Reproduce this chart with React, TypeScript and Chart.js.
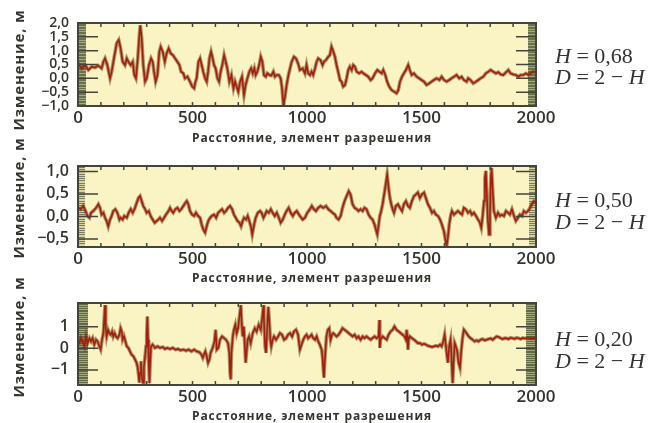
import React, { useEffect, useRef } from "react";
import { Chart, registerables } from "chart.js";

Chart.register(...registerables);

// ---------- data ----------
const X_TICKS = [0, 500, 1000, 1500, 2000];
const X_SMALL_TICKS = [100, 200, 300, 400, 500, 600, 700, 800, 900, 1000, 1100, 1200, 1300, 1400, 1500, 1600, 1700, 1800, 1900];
const X_TITLE = "Расстояние, элемент разрешения";
const Y_TITLE = "Изменение, м";

const H_LABELS = ["0,68", "0,50", "0,20"];

const P1_Y_TICKS = [-1, -0.5, 0, 0.5, 1, 1.5, 2];
const P2_Y_TICKS = [-0.5, 0, 0.5, 1];
const P3_Y_TICKS = [-1, 0, 1];

const P1_X = [0,16,31,45,60,74,89,103,111,118,128,140,147,157,169,178,186,195,205,213,220,230,239,246,253,261,268,272,278,285,293,300,310,319,326,332,339,347,355,361,370,379,387,396,405,414,424,434,443,450,460,467,478,489,499,507,513,518,526,533,540,547,555,562,568,574,581,588,594,601,609,616,623,630,638,645,652,661,670,679,686,693,700,708,716,725,732,740,748,756,763,770,776,783,791,798,805,812,820,827,836,844,853,860,868,877,885,891,897,904,911,919,926,933,943,952,961,
  969,981,991,998,1005,1013,1020,1027,1035,1042,1049,1059,1068,1074,1083,1093,1100,1107,1115,1122,1129,1136,1144,1151,1158,1166,1173,1180,1187,1195,1202,1209,1217,1228,1238,1246,1257,1267,1278,1286,1297,1307,1316,1326,1333,1342,1350,1359,1369,1380,1391,1399,1406,1415,1423,1432,1442,1449,1457,1467,1479,1490,1500,1511,1522,1534,1544,1554,1566,1578,1588,1598,1610,1621,1631,1642,1653,1665,1675,1685,1697,1704,1714,1726,1738,1748,1758,1770,1781,1792,1802,1813,1825,1835,1846,1857,1869,1879,1889,1901,1912,1923,1933,1945,1956,1966,1974,1988,2000];
const P1_Y = [0.55,0.36,0.48,0.30,0.42,0.39,0.46,0.36,0.60,0.72,0.48,0.00,0.24,0.72,1.27,1.39,1.08,0.60,0.48,0.72,0.60,0.48,0.60,0.12,0.00,0.72,1.57,1.92,1.45,0.48,-0.12,0.00,0.48,0.72,0.60,0.24,-0.12,0.12,0.96,1.14,0.96,0.60,0.90,1.08,0.90,0.84,0.72,0.60,0.48,0.24,0.18,0.00,0.06,-0.12,-0.30,-0.36,-0.12,0.00,0.60,0.72,0.48,0.24,0.00,-0.12,0.24,0.72,0.96,0.72,0.48,0.36,0.00,-0.12,0.24,0.48,0.84,0.60,0.36,-0.12,0.12,-0.36,-0.12,-0.30,-0.48,-0.12,0.06,-0.60,-0.24,0.00,0.24,0.36,0.18,0.36,0.12,0.24,0.48,0.78,0.60,0.12,0.06,0.18,0.12,0.10,0.24,0.06,0.12,0.12,0.00,-0.36,-0.98,-0.66,-0.24,0.12,0.36,0.60,0.78,0.72,0.54,
  0.30,0.36,0.18,0.48,0.18,0.12,0.24,0.12,0.36,0.60,0.72,0.66,0.48,0.60,0.66,0.78,0.84,1.14,0.96,0.78,0.48,0.24,-0.06,-0.12,-0.30,-0.24,0.00,0.30,0.42,0.30,0.48,0.42,0.24,0.18,0.24,0.18,0.12,0.06,-0.06,0.00,0.18,0.30,0.24,0.18,0.30,0.12,-0.12,-0.30,-0.42,-0.48,-0.54,-0.42,-0.12,0.06,0.18,0.30,0.48,0.30,0.12,0.18,0.06,0.00,-0.06,-0.12,-0.24,-0.18,-0.12,-0.06,0.00,-0.06,0.06,-0.06,-0.12,-0.06,0.00,0.06,0.12,0.00,0.06,-0.06,-0.12,0.00,-0.06,-0.18,-0.12,-0.06,0.00,0.06,0.18,0.24,0.30,0.24,0.18,0.22,0.14,0.12,0.22,0.30,0.18,0.14,0.12,0.06,0.12,0.12,0.18,0.12,0.18,0.24,0.22];

const P2_X = [0,12,23,33,41,50,57,67,79,89,96,103,111,118,125,132,140,147,154,163,172,181,186,195,202,213,221,230,239,249,256,264,271,278,285,293,300,309,317,326,335,344,351,358,367,376,384,395,402,409,416,425,434,443,451,460,469,475,482,489,498,507,515,524,533,540,547,555,562,569,577,584,594,603,612,620,629,638,646,655,664,673,681,689,696,705,712,719,725,734,741,748,756,761,769,776,785,795,802,810,817,824,833,842,850,859,868,877,885,894,903,911,920,929,938,946,955,
  969,981,991,1001,1013,1021,1030,1039,1049,1059,1071,1083,1093,1103,1112,1122,1129,1138,1147,1155,1164,1173,1182,1190,1199,1208,1217,1225,1234,1243,1251,1260,1269,1278,1286,1295,1301,1307,1313,1318,1324,1330,1337,1345,1350,1356,1362,1368,1374,1380,1388,1397,1406,1415,1423,1432,1441,1449,1458,1467,1476,1484,1493,1502,1511,1519,1528,1537,1546,1554,1563,1572,1581,1589,1598,1604,1610,1615,1621,1627,1633,1642,1650,1659,1668,1677,1685,1694,1703,1712,1720,1729,1738,1747,1755,1761,1767,1773,1777,1781,1786,1790,1795,1799,1803,1806,1811,1816,1825,1834,1843,1851,1860,1869,1878,1886,1895,1904,1912,1921,1930,1939,1947,1956,1965,1974,1982,1991,2000];
const P2_Y = [0.19,0.16,0.23,0.12,0.01,-0.03,0.08,0.12,0.19,0.27,0.19,0.04,0.08,-0.03,-0.10,-0.22,-0.07,0.01,0.12,0.16,0.08,-0.07,-0.03,-0.07,0.01,-0.03,0.08,0.16,0.08,0.19,0.30,0.41,0.45,0.34,0.23,0.16,0.08,0.12,0.01,-0.07,-0.14,-0.10,-0.07,-0.03,-0.10,-0.03,0.04,0.12,0.19,0.12,0.08,0.16,0.19,0.12,0.16,0.23,0.30,0.34,0.27,0.12,0.04,0.01,0.08,0.01,-0.03,-0.18,-0.29,-0.36,-0.22,-0.10,-0.03,0.01,0.04,-0.03,0.08,0.12,0.16,0.08,0.12,0.19,0.23,0.16,0.04,-0.03,-0.10,-0.14,-0.22,-0.10,-0.03,-0.07,0.01,-0.10,-0.25,-0.40,-0.18,-0.03,0.08,0.12,0.08,-0.03,0.04,0.12,0.08,0.16,0.08,0.01,0.08,-0.03,-0.14,-0.07,0.04,0.12,0.19,0.08,0.01,0.08,0.12,
  0.01,-0.07,-0.03,0.08,0.16,0.23,0.16,0.12,0.19,0.23,0.19,0.23,0.16,0.12,0.08,0.04,-0.03,-0.07,0.01,0.19,0.34,0.45,0.56,0.49,0.27,0.19,0.16,0.12,0.16,0.12,0.19,0.16,0.04,-0.03,-0.07,-0.18,-0.29,-0.40,-0.18,0.01,0.12,0.27,0.49,0.75,0.93,0.64,0.41,0.27,0.16,0.08,0.23,0.27,0.19,0.12,0.27,0.34,0.23,0.19,0.34,0.45,0.49,0.53,0.41,0.49,0.53,0.41,0.27,0.19,0.08,0.12,0.04,0.01,-0.07,-0.18,-0.33,-0.51,-0.66,-0.47,-0.18,0.01,0.12,0.04,0.08,0.12,0.08,0.04,0.19,0.16,0.08,0.12,0.04,0.08,0.01,-0.07,-0.14,-0.25,0.01,0.34,0.86,1.01,0.41,-0.10,-0.40,0.04,0.86,1.08,0.56,0.12,-0.03,0.08,0.01,0.04,0.01,0.12,0.08,0.04,0.16,0.01,-0.10,-0.03,0.04,0.01,0.12,0.08,0.12,0.19,0.27,0.34,0.30];

const P3_X = [0,6,13,20,28,35,42,50,57,64,71,79,86,93,99,105,111,115,118,121,125,131,137,143,149,154,160,166,173,181,186,191,195,201,207,213,220,227,234,242,249,256,261,265,268,271,275,280,284,288,293,297,300,303,306,309,312,315,319,326,336,347,358,370,380,390,402,414,425,437,448,460,472,483,495,507,518,530,539,545,550,556,562,568,574,579,588,596,601,606,613,620,629,638,646,655,661,664,667,670,676,681,687,693,699,705,711,715,719,724,728,732,737,741,747,754,763,772,780,789,798,805,810,812,817,821,826,831,836,840,844,850,856,865,874,882,891,900,909,917,926,935,943,952,961,
  969,976,984,991,998,1005,1013,1020,1027,1035,1042,1049,1056,1064,1068,1071,1074,1077,1080,1085,1091,1097,1103,1109,1115,1122,1129,1138,1147,1155,1164,1173,1182,1190,1199,1208,1217,1225,1234,1243,1251,1260,1269,1278,1286,1295,1304,1313,1316,1318,1321,1330,1339,1348,1356,1365,1374,1382,1391,1400,1409,1417,1426,1432,1435,1438,1441,1444,1449,1458,1467,1476,1484,1493,1502,1511,1519,1528,1537,1546,1554,1563,1572,1581,1588,1595,1601,1605,1610,1615,1621,1627,1631,1636,1640,1645,1650,1656,1662,1668,1674,1680,1685,1691,1697,1706,1714,1723,1732,1741,1749,1758,1767,1776,1784,1793,1802,1811,1819,1828,1837,1846,1854,1863,1872,1880,1889,1898,1907,1915,1924,1933,1942,1950,1959,1968,1977,1988,2000];
const P3_Y = [0.30,0.24,0.47,0.32,0.09,0.55,0.24,0.47,0.32,0.47,0.17,0.40,0.32,0.09,-0.06,0.40,0.70,1.47,2.00,0.93,0.55,0.86,0.70,0.63,0.78,0.55,0.70,0.55,0.47,0.63,0.93,0.78,0.40,0.55,0.32,0.09,0.02,-0.14,-0.29,-0.37,-0.52,-0.67,-0.90,-1.28,-1.59,-1.13,-0.60,-1.44,-1.59,-0.83,-0.37,0.09,0.70,1.47,0.40,-0.67,-1.62,-0.67,0.09,0.17,0.02,0.09,0.02,0.06,-0.03,0.02,-0.03,0.02,-0.06,-0.03,-0.09,-0.06,-0.11,-0.06,-0.14,-0.06,-0.14,-0.18,-0.29,-0.44,-0.29,-0.14,-0.37,-0.67,-0.52,-0.21,0.02,0.32,0.86,-0.06,0.02,0.40,0.55,0.47,0.40,0.24,-0.21,-1.13,-1.44,-0.21,0.55,0.86,1.09,0.70,0.93,1.47,2.00,1.16,0.55,1.01,0.24,-0.67,-0.06,0.40,0.55,0.24,0.70,0.93,0.78,1.09,0.86,1.47,2.00,1.31,0.09,-0.21,0.86,1.92,1.16,0.40,0.09,0.40,0.55,0.40,0.55,0.70,0.63,0.40,0.47,0.63,0.70,0.55,0.78,0.86,0.63,
  -0.06,0.17,0.40,0.55,0.63,0.47,0.55,0.63,0.47,0.40,0.55,0.32,0.17,-0.06,-0.44,-0.98,-1.36,-0.67,-0.21,0.55,0.86,0.93,0.40,0.63,0.70,0.63,0.55,0.63,0.78,0.93,0.86,0.78,0.70,0.63,0.55,0.63,0.47,0.55,0.40,0.55,0.47,0.55,0.47,0.40,0.47,0.55,0.47,0.55,1.31,0.02,0.40,0.55,0.47,0.40,0.63,0.78,0.86,1.01,0.86,0.78,0.70,0.63,0.55,0.40,0.86,0.55,-0.06,0.40,0.55,0.47,0.40,0.32,0.24,0.24,0.17,0.21,0.17,0.12,0.09,0.06,0.09,0.12,0.09,0.17,0.09,0.32,0.63,0.24,-0.21,-0.67,0.09,0.40,-0.37,-1.62,-0.67,0.24,0.09,-0.14,-0.67,-0.90,-0.06,0.55,0.86,0.78,0.70,0.55,0.47,0.40,0.32,0.37,0.32,0.40,0.43,0.37,0.40,0.43,0.46,0.40,0.47,0.55,0.52,0.47,0.43,0.47,0.46,0.43,0.49,0.47,0.44,0.49,0.47,0.43,0.48,0.46,0.47,0.49,0.46,0.47,0.47];

// ---------- style ----------
const FONT = "'Open Sans', 'DejaVu Sans', sans-serif";
const TEXT = "#34342e";
const BG = "#faf3c4";
const BORDER = "#44443a";
const LINE = "#a51d0c";
const HALO = "rgba(110, 60, 20, 0.55)";

const fmt1 = (v: number) => {
  const s = Math.abs(v).toFixed(1).replace(".", ",");
  return v < 0 ? "−" + s : s;
};
const fmt0 = (v: number) => (v < 0 ? "−" + Math.abs(v) : String(v));

const framePlugin = {
  id: "frame",
  beforeDatasetsDraw(chart: any, _a: any, o: any) {
    const { ctx, chartArea: a, scales } = chart;
    const y = scales.y;
    const h = a.bottom - a.top;
    ctx.save();
    ctx.fillStyle = BG;
    ctx.fillRect(a.left, a.top, a.right - a.left, h);
    ctx.fillStyle = o.stripColor;
    ctx.fillRect(a.left, a.top, o.stripW, h);
    ctx.fillRect(a.right - o.stripW, a.top, o.stripW, h);
    ctx.strokeStyle = o.stripLine;
    ctx.lineWidth = 1;
    ctx.beginPath();
    for (let v = Math.ceil(y.min / o.minorStep) * o.minorStep; v <= y.max; v += o.minorStep) {
      const py = Math.round(y.getPixelForValue(v)) + 0.5;
      ctx.moveTo(a.left, py);
      ctx.lineTo(a.left + o.stripW, py);
      ctx.moveTo(a.right - o.stripW, py);
      ctx.lineTo(a.right, py);
    }
    ctx.stroke();
    ctx.restore();
  },
  afterDatasetsDraw(chart: any, _a: any, o: any) {
    const { ctx, chartArea: a, scales } = chart;
    const y = scales.y;
    const x = scales.x;
    ctx.save();
    ctx.strokeStyle = BORDER;
    ctx.lineWidth = 1.5;
    ctx.beginPath();
    for (const v of o.major) {
      const py = y.getPixelForValue(v);
      if (py <= a.top + 2 || py >= a.bottom - 2) continue;
      ctx.moveTo(a.left, py);
      ctx.lineTo(a.left + o.majorLen, py);
      ctx.moveTo(a.right - o.majorLen, py);
      ctx.lineTo(a.right, py);
    }
    for (const v of X_SMALL_TICKS) {
      const px = x.getPixelForValue(v);
      ctx.moveTo(px, a.top);
      ctx.lineTo(px, a.top + 4);
      ctx.moveTo(px, a.bottom);
      ctx.lineTo(px, a.bottom - 4);
    }
    ctx.stroke();
    ctx.lineWidth = 2;
    ctx.strokeRect(a.left, a.top, a.right - a.left, a.bottom - a.top);
    ctx.restore();
  },
};

type Panel = {
  xs: number[];
  ys: number[];
  yMin: number;
  yMax: number;
  yTicks: number[];
  fmt: (v: number) => string;
  yFont: number;
  top: number;
  bottomPad: number;
  stripW: number;
  stripColor: string;
  stripLine: string;
  minorStep: number;
  majorLen: number;
};

const PANELS: Panel[] = [
  { xs: P1_X, ys: P1_Y, yMin: -1, yMax: 2, yTicks: P1_Y_TICKS, fmt: fmt1, yFont: 14, top: 23, bottomPad: 293, stripW: 8, stripColor: "#67724a", stripLine: "#a4ab80", minorStep: 0.1, majorLen: 20 },
  { xs: P2_X, ys: P2_Y, yMin: -0.68, yMax: 1.12, yTicks: P2_Y_TICKS, fmt: fmt1, yFont: 16, top: 166, bottomPad: 152, stripW: 7, stripColor: "#d6d39e", stripLine: "#7c7c60", minorStep: 0.05, majorLen: 20 },
  { xs: P3_X, ys: P3_Y, yMin: -1.7, yMax: 2.1, yTicks: P3_Y_TICKS, fmt: fmt0, yFont: 16, top: 303, bottomPad: 14, stripW: 10, stripColor: "#606b44", stripLine: "#a0a87c", minorStep: 0.1, majorLen: 20 },
];

function makeConfig(p: Panel): any {
  const pts = p.xs.map((x, i) => ({ x, y: p.ys[i] }));
  return {
    type: "line",
    data: {
      datasets: [
        { data: pts, borderColor: LINE, borderWidth: 1.6, pointRadius: 0, tension: 0, fill: false },
        { data: pts, borderColor: HALO, borderWidth: 3.6, pointRadius: 0, tension: 0, fill: false },
      ],
    },
    options: {
      responsive: false,
      animation: false,
      events: [],
      layout: { padding: { left: 0, right: 112, top: p.top, bottom: p.bottomPad } },
      plugins: {
        legend: { display: false },
        tooltip: { enabled: false },
        frame: {
          stripW: p.stripW,
          stripColor: p.stripColor,
          stripLine: p.stripLine,
          minorStep: p.minorStep,
          major: p.yTicks,
          majorLen: p.majorLen,
        },
      },
      scales: {
        x: {
          type: "linear",
          min: 0,
          max: 2000,
          afterBuildTicks: (s: any) => {
            s.ticks = X_TICKS.map((v) => ({ value: v }));
          },
          afterFit: (s: any) => {
            s.height = 24;
          },
          grid: { display: false, drawTicks: false },
          border: { display: false },
          ticks: {
            autoSkip: false,
            maxRotation: 0,
            padding: 2,
            color: TEXT,
            font: { family: FONT, size: 17, weight: "600" },
            callback: (v: number) => String(v),
          },
        },
        y: {
          type: "linear",
          min: p.yMin,
          max: p.yMax,
          afterBuildTicks: (s: any) => {
            s.ticks = p.yTicks.map((v) => ({ value: v }));
          },
          afterFit: (s: any) => {
            s.width = 78;
          },
          grid: { display: false, drawTicks: false },
          border: { display: false },
          ticks: {
            autoSkip: false,
            padding: 9,
            color: TEXT,
            font: { family: FONT, size: p.yFont, weight: "600" },
            callback: (v: number) => p.fmt(v),
          },
        },
      },
    },
    plugins: [framePlugin],
  };
}

const Y_TITLE_CENTERS = [70, 198, 337];
const X_TITLE_CENTERS = [137.5, 277.5, 416];
const HD_TOPS = [
  [45, 65.5],
  [189, 210.5],
  [327.5, 349.5],
];

export default function App() {
  const r0 = useRef<HTMLCanvasElement>(null);
  const r1 = useRef<HTMLCanvasElement>(null);
  const r2 = useRef<HTMLCanvasElement>(null);

  useEffect(() => {
    const refs = [r0, r1, r2];
    const charts = PANELS.map((p, i) => new Chart(refs[i].current as HTMLCanvasElement, makeConfig(p)));
    return () => charts.forEach((c) => c.destroy());
  }, []);

  const canvasStyle: React.CSSProperties = { position: "absolute", left: 0, top: 0 };
  const serif: React.CSSProperties = {
    position: "absolute",
    left: 555,
    fontFamily: "'Liberation Serif', 'DejaVu Serif', serif",
    fontSize: 22,
    lineHeight: "21px",
    color: "#333",
    whiteSpace: "nowrap",
  };

  return (
    <div style={{ position: "fixed", left: 0, top: 0, width: 648, height: 423, overflow: "hidden", background: "#fff" }}>
      <canvas ref={r0} width={648} height={423} style={canvasStyle} />
      <canvas ref={r1} width={648} height={423} style={canvasStyle} />
      <canvas ref={r2} width={648} height={423} style={canvasStyle} />
      {Y_TITLE_CENTERS.map((yc, i) => (
        <div
          key={"yt" + i}
          style={{
            position: "absolute",
            left: 18,
            top: yc,
            transform: "translate(-50%, -50%) rotate(-90deg)",
            fontFamily: FONT,
            fontWeight: 700,
            fontSize: 15,
            letterSpacing: 0.8,
            color: TEXT,
            whiteSpace: "nowrap",
            lineHeight: "16px",
          }}
        >
          {Y_TITLE}
        </div>
      ))}
      {X_TITLE_CENTERS.map((yc, i) => (
        <div
          key={"xt" + i}
          style={{
            position: "absolute",
            left: 312,
            top: yc,
            transform: "translate(-50%, -50%)",
            fontFamily: FONT,
            fontWeight: 700,
            fontSize: 12,
            letterSpacing: 0.9,
            color: TEXT,
            whiteSpace: "nowrap",
            lineHeight: "14px",
          }}
        >
          {X_TITLE}
        </div>
      ))}
      {HD_TOPS.map((t, i) => (
        <React.Fragment key={"hd" + i}>
          <div style={{ ...serif, top: t[0] }}>
            <i>H</i> = {H_LABELS[i]}
          </div>
          <div style={{ ...serif, top: t[1] }}>
            <i>D</i> = 2 − <i>H</i>
          </div>
        </React.Fragment>
      ))}
    </div>
  );
}
